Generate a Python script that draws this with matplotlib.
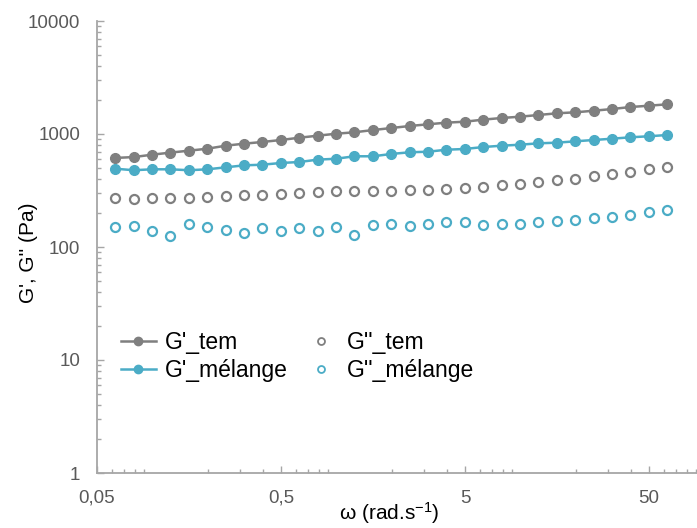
import matplotlib
matplotlib.use("Agg")
import matplotlib.pyplot as plt
from matplotlib.ticker import FixedLocator, LogLocator, NullFormatter

plt.rcParams['font.family'] = ['Liberation Sans', 'DejaVu Sans']
plt.rcParams['mathtext.fontset'] = 'custom'
plt.rcParams['mathtext.rm'] = 'Liberation Sans'
plt.rcParams['mathtext.it'] = 'Liberation Sans:italic'

# angular frequency (rad/s)
omega = [0.0628, 0.0791, 0.0996, 0.125, 0.158, 0.199, 0.250, 0.315, 0.396, 0.499,
         0.628, 0.791, 0.996, 1.25, 1.58, 1.99, 2.50, 3.15, 3.96, 4.99,
         6.28, 7.91, 9.96, 12.5, 15.8, 19.9, 25.0, 31.5, 39.6, 49.9, 62.8]

g1_tem = [614, 625, 656, 684, 712, 741, 788, 821, 850, 885, 927, 966, 1006,
          1035, 1084, 1130, 1177, 1219, 1260, 1285, 1340, 1386, 1423, 1473,
          1525, 1556, 1607, 1664, 1733, 1780, 1832]
g1_mel = [493, 478, 487, 487, 478, 487, 507, 528, 535, 554, 565, 593, 604,
          635, 635, 666, 689, 697, 726, 737, 767, 788, 804, 827, 838, 862,
          885, 909, 935, 955, 980]
g2_tem = [271, 266, 271, 271, 271, 277, 282, 287, 287, 293, 299, 305, 311,
          311, 315, 315, 321, 321, 326, 333, 340, 354, 361, 376, 389, 402,
          425, 442, 464, 487, 507]
g2_mel = [150, 154, 139, 125, 160, 150, 141, 132, 146, 138, 148, 138, 150,
          128, 158, 160, 154, 160, 166, 166, 158, 160, 160, 166, 170, 173,
          180, 185, 193, 205, 214]

x_ticks = [0.05, 0.5, 5, 50]
x_labels = ["0,05", "0,5", "5", "50"]
y_ticks = [1, 10, 100, 1000, 10000]
y_labels = ["1", "10", "100", "1000", "10000"]

grey = "#7f7f7f"
blue = "#4bacc6"
axis_col = "#a6a6a6"
tick_col = "#595959"

fig = plt.figure(figsize=(6.97, 5.28), dpi=100)
ax = fig.add_axes([97 / 697, 55 / 528, 600 / 697, 452 / 528])

ax.plot(omega, g1_tem, '-o', color=grey, lw=1.8, ms=7, label="G'_tem", zorder=4)
ax.plot(omega, g1_mel, '-o', color=blue, lw=1.8, ms=7, label="G'_mélange", zorder=4)
ax.plot(omega, g2_tem, 'o', color=grey, mfc='white', mew=1.6, ms=6.5, label="G''_tem", zorder=3)
ax.plot(omega, g2_mel, 'o', color=blue, mfc='white', mew=1.6, ms=6.5, label="G''_mélange", zorder=3)

ax.set_xscale('log')
ax.set_yscale('log')
ax.set_xlim(0.05, 91)
ax.set_ylim(1, 10000)

ax.xaxis.set_major_locator(FixedLocator(x_ticks))
ax.set_xticklabels(x_labels)
ax.xaxis.set_minor_locator(LogLocator(base=10, subs=range(2, 10)))
ax.xaxis.set_minor_formatter(NullFormatter())
ax.yaxis.set_major_locator(FixedLocator(y_ticks))
ax.set_yticklabels(y_labels)
ax.yaxis.set_minor_locator(LogLocator(base=10, subs=range(2, 10)))
ax.yaxis.set_minor_formatter(NullFormatter())

for side in ['top', 'right']:
    ax.spines[side].set_visible(False)
for side in ['left', 'bottom']:
    ax.spines[side].set_color(axis_col)
    ax.spines[side].set_linewidth(1.3)

ax.tick_params(which='major', direction='in', length=5, width=1, color=axis_col,
               labelsize=13.5, labelcolor=tick_col)
ax.tick_params(which='minor', direction='in', length=3, width=1, color=axis_col)
ax.tick_params(axis='y', which='major', pad=12)
ax.tick_params(axis='x', which='major', pad=12)

ax.set_ylabel("G', G'' (Pa)", fontsize=15, color='black')
ax.yaxis.set_label_coords(-0.115, 0.487)
ax.set_xlabel(r"ω (rad.s$^{-1}$)", fontsize=15, color='black')
ax.xaxis.set_label_coords(0.487, -0.0885)
ax.xaxis.label.set_va('center')
ax.yaxis.label.set_va('center')

leg = ax.legend(ncol=2, frameon=False, fontsize=16.5, loc='upper left',
                bbox_to_anchor=(0.025, 0.335), handlelength=1.5, handletextpad=0.4,
                columnspacing=0.7, labelspacing=0.22, borderaxespad=0)
for h in leg.legend_handles[:2]:
    h.set_markersize(6)
for h in leg.legend_handles[2:]:
    h.set_markersize(5)
    h.set_markeredgewidth(1.3)

fig.savefig("out.png", dpi=100)
